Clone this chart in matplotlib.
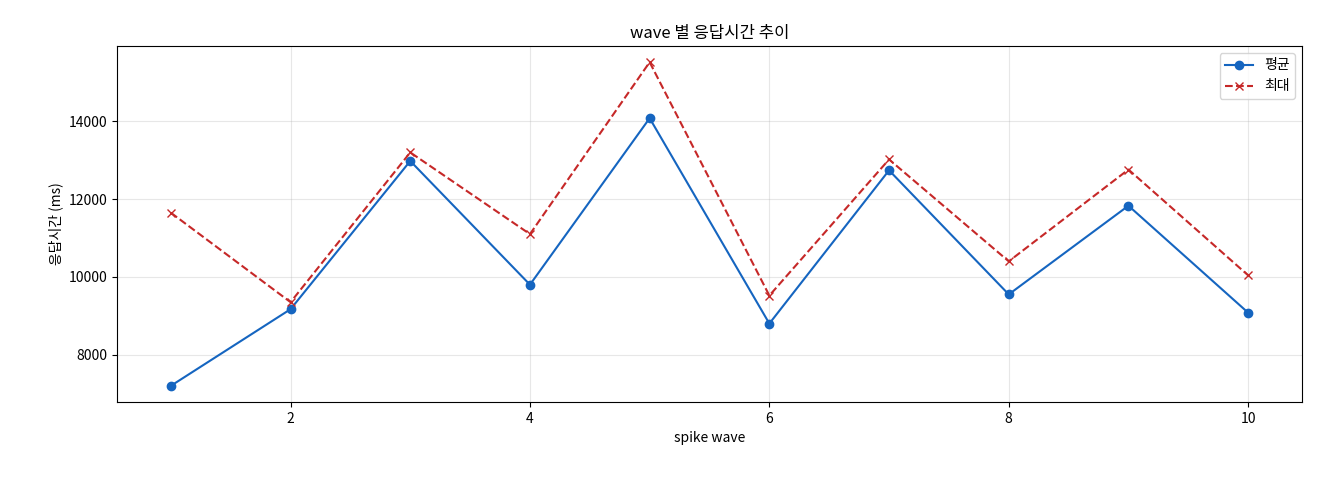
import matplotlib
matplotlib.use("Agg")
import matplotlib.pyplot as plt

plt.rcParams['font.family'] = ['Noto Sans CJK KR', 'DejaVu Sans']

waves = [1, 2, 3, 4, 5, 6, 7, 8, 9, 10]
avg_ms = [7200, 9170, 12980, 9800, 14080, 8800, 12740, 9550, 11830, 9080]
max_ms = [11650, 9350, 13200, 11100, 15520, 9520, 13020, 10400, 12760, 10040]

fig = plt.figure(figsize=(13.2, 4.8), dpi=100)
ax = fig.add_axes([117/1320, 1-402/480, (1302-117)/1320, (402-46)/480])
ax.plot(waves, avg_ms, marker='o', color='#1565c0', label='평균')
ax.plot(waves, max_ms, marker='x', linestyle='--', color='#c62828', label='최대')
ax.set_title('wave 별 응답시간 추이')
ax.set_xlabel('spike wave')
ax.set_ylabel('응답시간 (ms)')
ax.grid(True, alpha=0.3)
ax.legend(loc='upper right')
fig.savefig('out.png', dpi=100)
